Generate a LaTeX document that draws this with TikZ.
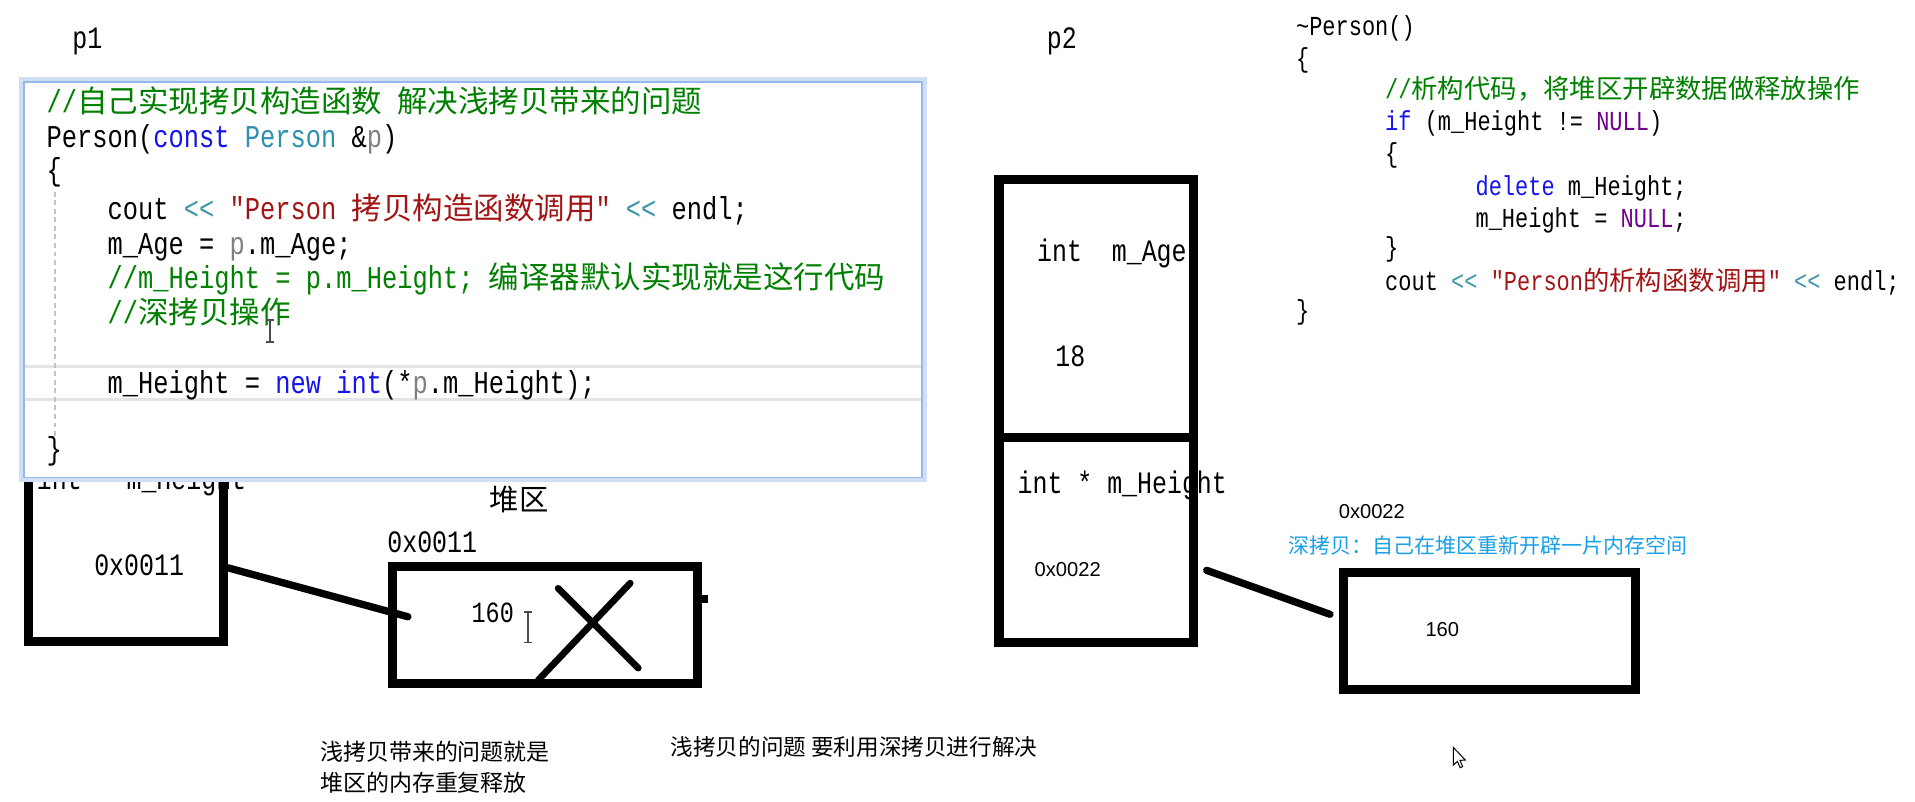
\documentclass[tikz,border=0pt]{standalone}
\usepackage{fontspec}
\newfontfamily\codefont{Liberation Mono}[FakeStretch=0.8]
\newfontfamily\cjkfont{Noto Sans CJK SC}[Scale=0.96]
\newfontfamily\zhfont{Noto Sans CJK SC}
\newfontfamily\addrfont{Liberation Sans}
\newcommand\zh[1]{{\cjkfont #1}}
\definecolor{cmtgreen}{RGB}{0,128,0}
\definecolor{kwblue}{RGB}{20,20,235}
\definecolor{typeteal}{RGB}{43,145,175}
\definecolor{opteal}{RGB}{60,150,170}
\definecolor{strred}{RGB}{163,21,21}
\definecolor{nullpurple}{RGB}{111,0,138}
\definecolor{paramgray}{RGB}{128,128,128}
\definecolor{winblue}{RGB}{150,185,235}
\definecolor{hlgray}{RGB}{226,228,232}
\definecolor{guidegray}{RGB}{195,195,195}
\definecolor{deepblue}{RGB}{25,160,230}

\begin{document}
\begin{tikzpicture}[x=1pt,y=-1pt,
  lcode/.style={anchor=base west,inner sep=0,font=\codefont\fontsize{26}{30}\selectfont},
  rcode/.style={anchor=base west,inner sep=0,font=\codefont\fontsize{22.5}{26}\selectfont},
  memlabel/.style={anchor=base west,inner sep=0,font=\codefont\fontsize{25.5}{30}\selectfont},
  addr/.style={anchor=base west,inner sep=0,font=\addrfont\fontsize{16.5}{20}\selectfont},
  zhnote/.style={anchor=base west,inner sep=0,font=\zhfont\fontsize{#1}{#1}\selectfont},
  membox/.style={draw=black,line width=7.5},
  pointer/.style={black,line width=6,line cap=round},
  cross/.style={black,line width=5.5,line cap=round},
  ibeam/.style={draw=black!70,line width=1.2}]
   \fill[white] (0,0) rectangle (1568,656);
   \useasboundingbox (0,0) rectangle (1568,656);

   \node[memlabel] (p1name) at (59,40) {p1};
   \node[memlabel] (p1ptr) at (30,401) {int * m\_Height};
   \node[memlabel] (p1addr) at (77,471) {0x0011};
   \draw[membox] (23.5,147) rectangle (183,525.3);

   \draw[winblue!45,line width=4] (17.5,65) rectangle (757,393);
   \filldraw[fill=white,draw=winblue,line width=1.3] (19.7,67) rectangle (755,391);
   \draw[hlgray,line width=2] (20.5,300) -- (754,300);
   \draw[hlgray,line width=2] (20.5,327) -- (754,327);
   \draw[guidegray,line width=1,dash pattern=on 4pt off 3pt] (45,157) -- (45,357);
   \node[lcode] (lcode1) at (38,92) {\color{cmtgreen}//\zh{自己实现拷贝构造函数} \zh{解决浅拷贝带来的问题}};
   \node[lcode] (lcode2) at (38,121) {Person(\textcolor{kwblue}{const} \textcolor{typeteal}{Person} \&\textcolor{paramgray}{p})};
   \node[lcode] (lcode3) at (38,148) {\{};
   \node[lcode] (lcode4) at (88,179.5) {cout \textcolor{opteal}{<<} \textcolor{strred}{"Person \zh{拷贝构造函数调用}"} \textcolor{opteal}{<<} endl;};
   \node[lcode] (lcode5) at (88,208.5) {m\_Age = \textcolor{paramgray}{p}.m\_Age;};
   \node[lcode] (lcode6) at (88,236.5) {\color{cmtgreen}//m\_Height = p.m\_Height; \zh{编译器默认实现就是这行代码}};
   \node[lcode] (lcode7) at (88,265) {\color{cmtgreen}//\zh{深拷贝操作}};
   \node[lcode] (lcode8) at (88,322.5) {m\_Height = \textcolor{kwblue}{new} \textcolor{kwblue}{int}(*\textcolor{paramgray}{p}.m\_Height);};
   \node[lcode] (lcode9) at (38,376) {\}};
   \draw[ibeam] (218,262) -- (224,262) (221,262) -- (221,280) (218,280) -- (224,280);

   \node[zhnote=24] (heaptitle) at (401,418) {堆区};
   \node[memlabel] (heapaddr) at (317,452) {0x0011};
   \node[anchor=base west,inner sep=0,font=\codefont\fontsize{24}{28}\selectfont] (heapval) at (386,510) {160};
   \draw[membox] (321.3,463.7) rectangle (571,559.5);
   \fill[black] (575,487) rectangle (580,494);
   \draw[ibeam] (429,501) -- (436,501) (432.5,501) -- (432.5,526) (429,526) -- (436,526);
   \draw[cross] (457,481.7) -- (522.6,547);
   \draw[cross] (516,477.5) -- (440.6,557);
   \coordinate (p1out) at (187,465);
   \coordinate (heapin) at (334,505);
   \draw[pointer] (p1out) -- (heapin);

   \node[zhnote=18.8] (shallow1) at (262,623) {浅拷贝带来的问题就是};
   \node[zhnote=18.8] (shallow2) at (262,648) {堆区的内存重复释放};
   \node[zhnote=18.5] (shallowfix) at (549,619) {浅拷贝的问题 要利用深拷贝进行解决};

   \node[memlabel] (p2name) at (857,40) {p2};
   \node[memlabel] (p2age) at (849,214) {int~~m\_Age};
   \node[memlabel] (p2ageval) at (864,300) {18};
   \node[memlabel] (p2ptr) at (833,404) {int * m\_Height};
   \node[addr] (p2addr) at (847,472) {0x0022};
   \draw[membox] (818,147) rectangle (977.5,526);
   \draw[membox] (818,358) -- (977.5,358);

   \node[addr] (deepaddr) at (1096,424.5) {0x0022};
   \node[zhnote=17.2,text=deepblue] (deepnote) at (1055,453) {深拷贝：自己在堆区重新开辟一片内存空间};
   \node[addr] (deepval) at (1167,521) {160};
   \draw[membox] (1099.7,468.7) rectangle (1339.3,564.3);
   \coordinate (p2out) at (988,467);
   \coordinate (deepin) at (1089,503);
   \draw[pointer] (p2out) -- (deepin);
   \filldraw[fill=white,draw=black,line width=0.8] (1190,612) -- (1190,626.5) -- (1193.3,623.4) -- (1195.6,628.6) -- (1197.6,627.7) -- (1195.4,622.6) -- (1199.8,622.3) -- cycle;

   \node[rcode] (rcode1) at (1061,29) {\textasciitilde Person()};
   \node[rcode] (rcode2) at (1061,55) {\{};
   \node[rcode] (rcode3) at (1134,81) {\color{cmtgreen}//\zh{析构代码，将堆区开辟数据做释放操作}};
   \node[rcode] (rcode4) at (1134,107) {\textcolor{kwblue}{if} (m\_Height != \textcolor{nullpurple}{NULL})};
   \node[rcode] (rcode5) at (1134,133) {\{};
   \node[rcode] (rcode6) at (1208,160) {\textcolor{kwblue}{delete} m\_Height;};
   \node[rcode] (rcode7) at (1208,186) {m\_Height = \textcolor{nullpurple}{NULL};};
   \node[rcode] (rcode8) at (1134,210) {\}};
   \node[rcode] (rcode9) at (1134,238) {cout \textcolor{opteal}{<<} \textcolor{strred}{"Person\zh{的析构函数调用}"} \textcolor{opteal}{<<} endl;};
   \node[rcode] (rcode10) at (1061,262) {\}};
  \end{tikzpicture}
\end{document}
